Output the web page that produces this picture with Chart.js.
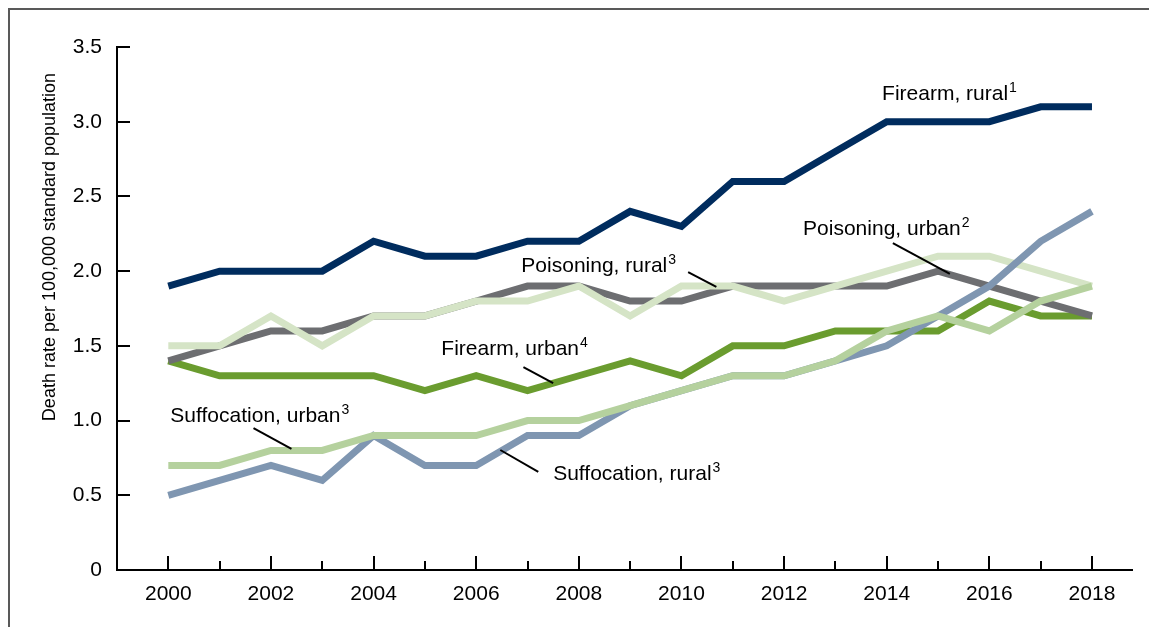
<!DOCTYPE html>
<html>
<head>
<meta charset="utf-8">
<script src="https://cdn.jsdelivr.net/npm/chart.js@4.4.1/dist/chart.umd.min.js"></script>
<style>
  html, body { margin: 0; padding: 0; background: #fff; overflow: hidden; }
  #frame { position: absolute; left: 8px; top: 8px; width: 1200px; height: 700px; border: 2px solid #595959; }
  #wrap { position: absolute; left: 0; top: 0; width: 1149px; height: 627px; }
</style>
</head>
<body>
<div id="frame"></div>
<div id="wrap"><canvas id="chart" width="1149" height="627"></canvas></div>
<script>
// years 2000-2018, death rates per 100,000
const years = [2000, 2001, 2002, 2003, 2004, 2005, 2006, 2007, 2008, 2009, 2010, 2011, 2012, 2013, 2014, 2015, 2016, 2017, 2018];
const firearmRural     = [1.9, 2.0, 2.0, 2.0, 2.2, 2.1, 2.1, 2.2, 2.2, 2.4, 2.3, 2.6, 2.6, 2.8, 3.0, 3.0, 3.0, 3.1, 3.1];
const poisoningUrban   = [1.4, 1.5, 1.6, 1.6, 1.7, 1.7, 1.8, 1.9, 1.9, 1.8, 1.8, 1.9, 1.9, 1.9, 1.9, 2.0, 1.9, 1.8, 1.7];
const poisoningRural   = [1.5, 1.5, 1.7, 1.5, 1.7, 1.7, 1.8, 1.8, 1.9, 1.7, 1.9, 1.9, 1.8, 1.9, 2.0, 2.1, 2.1, 2.0, 1.9];
const firearmUrban     = [1.4, 1.3, 1.3, 1.3, 1.3, 1.2, 1.3, 1.2, 1.3, 1.4, 1.3, 1.5, 1.5, 1.6, 1.6, 1.6, 1.8, 1.7, 1.7];
const suffocationUrban = [0.7, 0.7, 0.8, 0.8, 0.9, 0.9, 0.9, 1.0, 1.0, 1.1, 1.2, 1.3, 1.3, 1.4, 1.6, 1.7, 1.6, 1.8, 1.9];
const suffocationRural = [0.5, 0.6, 0.7, 0.6, 0.9, 0.7, 0.7, 0.9, 0.9, 1.1, 1.2, 1.3, 1.3, 1.4, 1.5, 1.7, 1.9, 2.2, 2.4];
const yTicks = [0, 0.5, 1.0, 1.5, 2.0, 2.5, 3.0, 3.5];
const yTitle = 'Death rate per 100,000 standard population';

const FONT = '"Liberation Sans", Arial, sans-serif';

// labels on the chart: text, superscript, anchor (year, rate), leader line (year, rate pairs)
const notes = [
  { text: 'Firearm, rural', sup: '1', at: [2013.91, 3.145] },
  { text: 'Poisoning, urban', sup: '2', at: [2012.37, 2.242], line: [[2014.12, 2.188], [2015.23, 1.981]] },
  { text: 'Poisoning, rural', sup: '3', at: [2006.88, 1.994], line: [[2010.13, 1.994], [2010.68, 1.894]] },
  { text: 'Firearm, urban', sup: '4', at: [2005.32, 1.439], line: [[2006.92, 1.358], [2007.50, 1.251]] },
  { text: 'Suffocation, urban', sup: '3', at: [2000.04, 0.990], line: [[2001.66, 0.950], [2002.40, 0.810]] },
  { text: 'Suffocation, rural', sup: '3', at: [2007.50, 0.602], line: [[2006.47, 0.803], [2007.21, 0.656]] }
];

function series(label, values, color) {
  return {
    label: label,
    data: years.map((yr, i) => ({ x: yr, y: values[i] })),
    borderColor: color,
    backgroundColor: color,
    borderWidth: 7,
    pointRadius: 0,
    tension: 0,
    borderCapStyle: 'butt',
    borderJoinStyle: 'miter',
    fill: false
  };
}

// tick marks point into the plot, and the y title sits above center
const extras = {
  id: 'extras',
  afterDraw(chart) {
    const { ctx, scales: { x, y } } = chart;
    const area = chart.chartArea;
    ctx.save();
    ctx.strokeStyle = '#000';
    ctx.lineWidth = 2;
    years.forEach(yr => {
      const px = Math.round(x.getPixelForValue(yr));
      const len = yr % 2 === 0 ? 14 : 9;
      ctx.beginPath();
      ctx.moveTo(px, area.bottom);
      ctx.lineTo(px, area.bottom - len);
      ctx.stroke();
    });
    yTicks.forEach(v => {
      if (v === 0) return;
      const py = Math.round(y.getPixelForValue(v));
      ctx.beginPath();
      ctx.moveTo(area.left, py);
      ctx.lineTo(area.left + 13, py);
      ctx.stroke();
    });

    // y axis title
    ctx.fillStyle = '#000';
    ctx.font = '18px ' + FONT;
    ctx.textAlign = 'center';
    ctx.textBaseline = 'middle';
    ctx.translate(50, 247);
    ctx.rotate(-Math.PI / 2);
    ctx.fillText(yTitle, 0, 0);
    ctx.restore();

    // notes
    ctx.save();
    ctx.fillStyle = '#000';
    ctx.strokeStyle = '#000';
    ctx.lineWidth = 2;
    ctx.textBaseline = 'alphabetic';
    ctx.textAlign = 'left';
    notes.forEach(n => {
      const tx = x.getPixelForValue(n.at[0]);
      const ty = y.getPixelForValue(n.at[1]);
      ctx.font = '21px ' + FONT;
      ctx.fillText(n.text, tx, ty);
      const w = ctx.measureText(n.text).width;
      ctx.font = '14px ' + FONT;
      ctx.fillText(n.sup, tx + w + 1, ty - 8);
      if (n.line) {
        ctx.beginPath();
        ctx.moveTo(x.getPixelForValue(n.line[0][0]), y.getPixelForValue(n.line[0][1]));
        ctx.lineTo(x.getPixelForValue(n.line[1][0]), y.getPixelForValue(n.line[1][1]));
        ctx.stroke();
      }
    });
    ctx.restore();
  }
};

new Chart(document.getElementById('chart'), {
  type: 'line',
  data: {
    datasets: [
      series('Suffocation, urban', suffocationUrban, '#b5d19e'),
      series('Suffocation, rural', suffocationRural, '#7f96b1'),
      series('Poisoning, rural', poisoningRural, '#d5e4c6'),
      series('Poisoning, urban', poisoningUrban, '#6d6e71'),
      series('Firearm, urban', firearmUrban, '#6a9c2f'),
      series('Firearm, rural', firearmRural, '#002c5e')
    ]
  },
  options: {
    responsive: false,
    animation: false,
    events: [],
    layout: { padding: { left: 0, top: 47, right: 17, bottom: 0 } },
    plugins: {
      legend: { display: false },
      tooltip: { enabled: false }
    },
    scales: {
      x: {
        type: 'linear',
        min: 1999,
        max: 2018.78,
        afterFit(scale) { scale.height = 57; },
        afterBuildTicks(scale) {
          scale.ticks = years.filter(yr => yr % 2 === 0).map(yr => ({ value: yr }));
        },
        ticks: {
          autoSkip: false,
          maxRotation: 0,
          padding: 12,
          color: '#000',
          font: { family: FONT, size: 21 },
          callback: v => String(v)
        },
        grid: { display: false, drawTicks: false },
        border: { display: true, color: '#000', width: 2 }
      },
      y: {
        min: 0,
        max: 3.5,
        afterFit(scale) { scale.width = 117; },
        afterBuildTicks(scale) {
          scale.ticks = yTicks.map(v => ({ value: v }));
        },
        ticks: {
          padding: 15,
          color: '#000',
          font: { family: FONT, size: 21 },
          callback: v => (v === 0 ? '0' : v.toFixed(1))
        },
        grid: { display: false, drawTicks: false },
        border: { display: true, color: '#000', width: 2 }
      }
    }
  },
  plugins: [extras]
});
</script>
</body>
</html>
